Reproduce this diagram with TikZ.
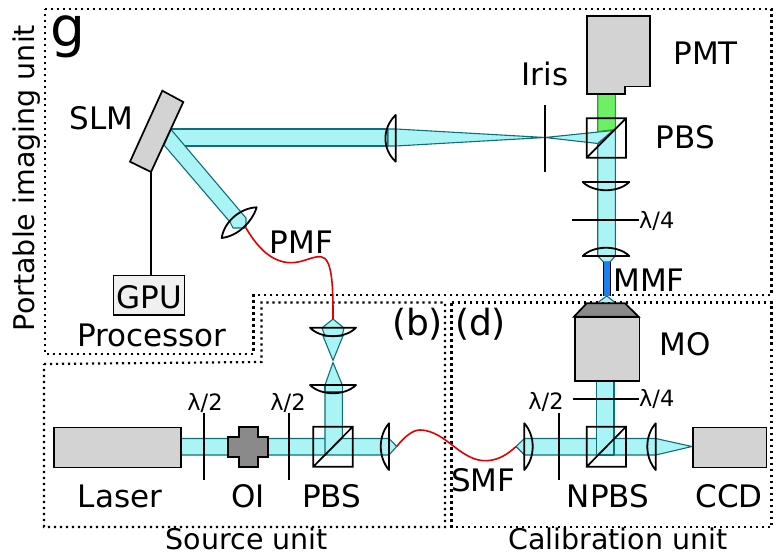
\documentclass[tikz,border=0pt]{standalone}
\usepackage{fontspec}
\setmainfont{DejaVu Sans}
\definecolor{beamfill}{HTML}{AAF4F6}
\definecolor{beamline}{HTML}{0F6F78}
\definecolor{greenfill}{HTML}{6EF066}
\definecolor{greenline}{HTML}{2E9A2A}
\definecolor{devgray}{HTML}{D3D3D3}
\definecolor{darkgray}{HTML}{8A8A8A}
\definecolor{fibblue}{HTML}{1A80F0}
\definecolor{fibred}{HTML}{E00000}
\tikzset{
  beam/.style={fill=beamfill,draw=beamline,line width=1.1pt,line join=round},
  greenbeam/.style={fill=greenfill,draw=greenline,line width=1.1pt},
  device/.style={fill=devgray,draw=black,line width=1.7pt},
  optic/.style={draw=black,line width=1.9pt},
  lensline/.style={draw=black,line width=1.8pt,line join=round},
  unitbox/.style={draw=black,line width=2.2pt,dash pattern=on 2.2pt off 3.8pt},
  redfibre/.style={draw=fibred,line width=1.6pt},
  lbl/.style={anchor=base,inner sep=0pt,font=\fontsize{31}{34}\selectfont},
  lblsm/.style={anchor=base,inner sep=0pt,font=\fontsize{22.5}{24}\selectfont},
  lblunit/.style={anchor=base,inner sep=0pt,font=\fontsize{28.5}{30}\selectfont},
  lblpar/.style={anchor=base,inner sep=0pt,font=\fontsize{36}{38}\selectfont},
  cube/.style={draw=black,line width=1.7pt}
}
\begin{document}
\begin{tikzpicture}[x=1pt,y=-1pt]
\useasboundingbox (0,0) rectangle (779,556);
% unit boxes
\draw[unitbox] (45,9) -- (771.5,9) -- (771.5,295) -- (253.5,295) -- (253.5,354) -- (45,354) -- cycle;
\draw[unitbox] (44,364) -- (261.5,362) -- (261.5,302.5) -- (445,302.5) -- (445,527) -- (44,527) -- cycle;
\draw[unitbox] (451.5,302.5) -- (771.5,302.5) -- (771.5,527) -- (451.5,527) -- cycle;
% coordinates for fibre and wire ends
\coordinate (pmfA) at (246,228);
\coordinate (pmfB) at (333,319);
\coordinate (smfA) at (396.7,446.5);
\coordinate (smfB) at (516,446.5);
\coordinate (slmtip) at (151,172);
% imaging-unit beams
\draw[beam] (171,129) -- (388,129) -- (388,146) -- (183,146);
\draw[beam] (388,129) -- (396,129) -- (545,137.5) -- (396,146) -- (388,146) -- cycle;
\draw[beam] (545,137.5) -- (613,130.5) -- (597.7,143.5) -- cycle;
\draw[beam] (171,129.5) -- (246,218) -- (246,228) -- (233,228) -- (230,222) -- (164,145) -- cycle;
\draw[greenbeam] (597.7,94) -- (615.3,94) -- (615.3,129.5) -- (597.7,131.5) -- cycle;
\draw[beam] (615.3,129.5) -- (615.3,256) -- (610,262) -- (603.5,262) -- (597.7,256) -- (597.7,144) -- cycle;
\draw[beam] (598.5,302) -- (606.7,296) -- (614.5,302);
\fill[fibblue] (603.5,262) rectangle (610,296);
\draw[black,line width=0.9pt] (603.5,262) -- (603.5,296) (610,262) -- (610,296);
% source-unit beams
\draw[beam] (180,438.5) -- (389,438.5) -- (396.7,446.5) -- (389,455) -- (180,455) -- cycle;
\draw[beam] (325,455.5) -- (325,385) -- (333,362.5) -- (342.3,385) -- (342.3,438) -- cycle;
\draw[beam] (323,336) -- (333,360.5) -- (343,336) -- cycle;
\draw[beam] (322,328) -- (333,319) -- (344,328) -- (342,336) -- (325,336) -- cycle;
\draw[beam] (325,385) -- (342.3,385) -- (342.3,392) -- (325,392) -- cycle;
% calibration-unit beams
\draw[beam] (516,446.5) -- (524.5,438.5) -- (655.7,438.5) -- (692,446.5) -- (655.7,455) -- (524.5,455) -- cycle;
\draw[beam] (596.7,380) -- (614,380) -- (614,455) -- (596.7,455) -- cycle;
\fill[beamfill] (597.3,439) rectangle (613.4,454.4);
\draw[beamline,line width=1.1pt] (596.7,438.5) -- (596.7,455);
% red fibres
\draw[redfibre] (pmfA) .. controls (256,245) and (270,262) .. (290,262.7) .. controls (303,263) and (312,256) .. (321,256.7) .. controls (333,258) and (333,290) .. (pmfB);
\draw[redfibre] (smfA) .. controls (405,436) and (413,430) .. (420,430) .. controls (436,430) and (450,444) .. (460,451) .. controls (470,458) and (478,461) .. (487,460.7) .. controls (499,460) and (508,454) .. (smfB);
% SLM and GPU
\draw[device] (162.3,90.7) -- (183.3,102) -- (151,172) -- (130,161.7) -- cycle;
\node[draw=black,line width=1.2pt,fill=black!6,minimum width=71pt,minimum height=39.5pt,inner sep=0pt] (gpu) at (149.2,295.2) {};
\node[lbl] (gputext) at (149.2,308) {GPU};
\draw[optic] (slmtip) -- (slmtip |- gpu.north);
% PMT, laser, MO, CCD, OI
\draw[device] (586.7,16) -- (650,16) -- (650,86.5) -- (625.3,86.5) -- (625.3,94) -- (586.7,94) -- cycle;
\node[device,minimum width=126.7pt,minimum height=40pt,inner sep=0pt,anchor=north west] (laser) at (53.3,426.7) {};
\node[device,minimum width=73.7pt,minimum height=40pt,inner sep=0pt,anchor=north west] (ccd) at (692,426.7) {};
\node[device,minimum width=64.6pt,minimum height=63.3pt,inner sep=0pt,anchor=north west] (mo) at (574,316.7) {};
\draw[device,fill=darkgray] (574,316.7) -- (586.7,303.3) -- (625,303.3) -- (638.6,316.7) -- cycle;
\draw[fill=darkgray,draw=black,line width=1.8pt] (228.3,437.3) -- (239,437.3) -- (239,427.3) -- (257.7,427.3) -- (257.7,437.3) -- (268.3,437.3) -- (268.3,456.7) -- (257.7,456.7) -- (257.7,466.7) -- (239,466.7) -- (239,456.7) -- (228.3,456.7) -- cycle;
% cubes
\draw[cube] (586.7,118.3) rectangle (626,157.7) (586.7,157.7) -- (626,118.3);
\draw[cube] (313.3,426.7) rectangle (352.7,466.7) (313.3,466.7) -- (352.7,426.7);
\draw[cube] (586.7,426.7) rectangle (626,466.7) (586.7,466.7) -- (626,426.7);
% retarders and iris
\draw[optic] (545,105) -- (545,171.7);
\draw[optic] (572.3,220) -- (639.3,220);
\draw[optic] (204.3,413.3) -- (204.3,480);
\draw[optic] (289,413.3) -- (289,480);
\draw[optic] (559.3,413.3) -- (559.3,480);
\draw[optic] (572.7,398.7) -- (639.3,398.7);
% lenses
\draw[lensline] (395.7,115) .. controls (382,128) and (382,149) .. (395.7,161.7) -- cycle;
\draw[lensline] (582.7,182) -- (629.3,182) .. controls (618,193) and (594,193) .. (582.7,182) -- cycle;
\draw[lensline] (582.7,256) -- (629.3,256) .. controls (618,245) and (594,245) .. (582.7,256) -- cycle;
\draw[lensline] (310,327.7) -- (356,327.7) .. controls (345,339) and (321,339) .. (310,327.7) -- cycle;
\draw[lensline] (310,385) -- (356,385) .. controls (345,396) and (321,396) .. (310,385) -- cycle;
\draw[lensline] (389,423.3) .. controls (378,436) and (378,457) .. (389,470) -- cycle;
\draw[lensline] (524.3,423.3) .. controls (535.5,436) and (535.5,457) .. (524.3,470) -- cycle;
\draw[lensline] (655.7,423.3) .. controls (644.5,436) and (644.5,457) .. (655.7,470) -- cycle;
\draw[lensline] (256.7,207.3) .. controls (240,208) and (224,222) .. (221.7,238) .. controls (238,236) and (252,222) .. (256.7,207.3) -- cycle;
% labels
\node[anchor=base,inner sep=0pt,font=\fontsize{55}{58}\selectfont] (glabel) at (68,47) {g};
\node[lblunit,rotate=90] (portable) at (34.5,178) {Portable imaging unit};
\node[lbl] (slm) at (101.5,129.3) {SLM};
\node[lbl] (pmt) at (705.7,65) {PMT};
\node[lbl] (iris) at (545,86) {Iris};
\node[lbl] (pbsa) at (685.5,148.3) {PBS};
\node[lbl] (pmf) at (301.5,253.3) {PMF};
\node[lbl] (proc) at (152,346.7) {Processor};
\node[lblpar] (b) at (417.5,335) {(b)};
\node[lblpar] (d) at (480.5,335) {(d)};
\node[lbl] (mol) at (685,355) {MO};
\node[lbl] (mmf) at (649,291.5) {MMF};
\node[lbl] (las) at (120,507.3) {Laser};
\node[lbl] (oi) at (248,507.3) {OI};
\node[lbl] (pbsb) at (331.7,507.3) {PBS};
\node[lbl] (smf) at (483.3,491.7) {SMF};
\node[lbl] (npbs) at (608,507.3) {NPBS};
\node[lbl] (ccdl) at (729,507.3) {CCD};
\node[lblunit] (src) at (246.7,549.5) {Source unit};
\node[lblunit] (cal) at (618,549.5) {Calibration unit};
\node[lblsm] (q1) at (656.7,228.3) {λ/4};
\node[lblsm] (q2) at (656.7,406.7) {λ/4};
\node[lblsm] (h1) at (205,410) {λ/2};
\node[lblsm] (h2) at (288,410) {λ/2};
\node[lblsm] (h3) at (546,409) {λ/2};
\end{tikzpicture}
\end{document}
